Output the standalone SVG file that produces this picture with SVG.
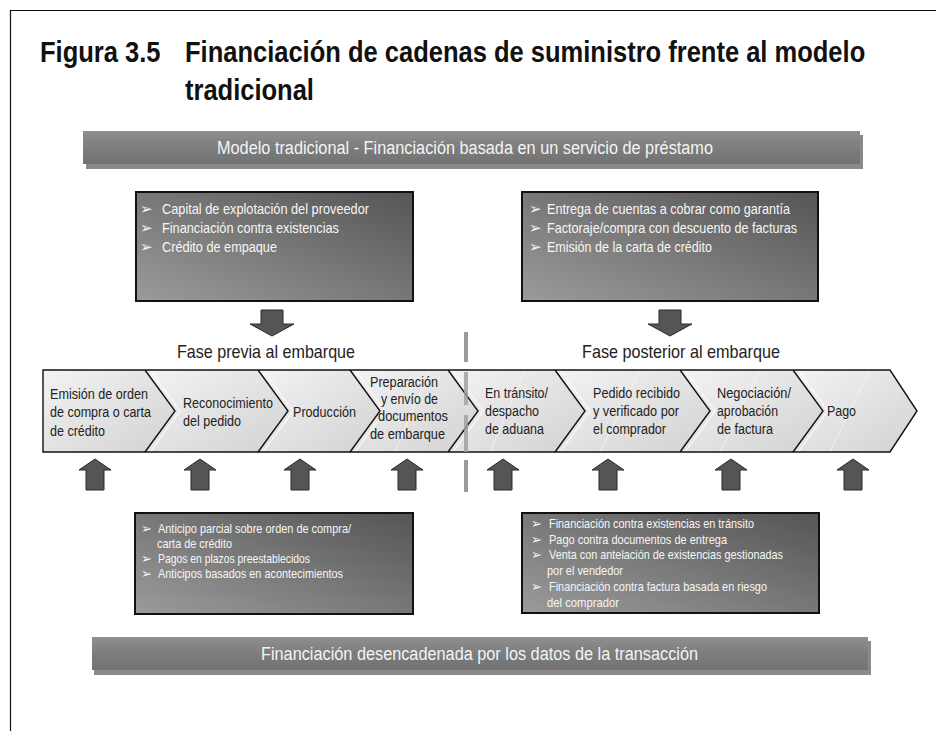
<svg xmlns="http://www.w3.org/2000/svg" width="936" height="731" viewBox="0 0 936 731">
<style>
text{font-family:'Liberation Sans',Arial,sans-serif}
.title{font-weight:bold;font-size:29px;fill:#111}
.ban{font-size:18px;fill:#f4f4f4}
.fase{font-size:19px;fill:#222}
.chev{font-size:15.5px;fill:#222}
.bx{font-size:14.5px;fill:#f6f6f6}
.bxs{font-size:13px;fill:#f6f6f6}
.bul{font-family:'DejaVu Sans',sans-serif;fill:#f6f6f6}
.box{stroke:#111;stroke-width:2}
.arr{fill:#555;stroke:#2a2a2a;stroke-width:1}
.sep{fill:#9c9c9c}
.edge{fill:none;stroke:#111;stroke-width:1.4;stroke-linejoin:miter}
.notch{fill:none;stroke:#fbfbfb;stroke-width:1.2}
.gloss{fill:none;stroke:#f6f6f6;stroke-width:1;opacity:0.8}
</style>
<defs>
<linearGradient id="gBox" x1="0" y1="1" x2="1" y2="0">
<stop offset="0" stop-color="#9b9b9b"/>
<stop offset="1" stop-color="#555"/>
</linearGradient>
<linearGradient id="gBan" x1="0" y1="0" x2="0" y2="1">
<stop offset="0" stop-color="#8f8f8f"/>
<stop offset="0.5" stop-color="#7d7d7d"/>
<stop offset="1" stop-color="#727272"/>
</linearGradient>
<linearGradient id="gChev" x1="0" y1="0" x2="1" y2="1">
<stop offset="0" stop-color="#f3f3f3"/>
<stop offset="1" stop-color="#d2d2d2"/>
</linearGradient>
</defs>

<rect x="0" y="0" width="936" height="731" fill="#fff"/>
<path d="M10.5,731 V10.5 H936" fill="none" stroke="#111" stroke-width="1.2"/>

<g id="title" transform="scale(0.88,1)">
<text class="title" x="45.5" y="62">Figura 3.5</text>
<text class="title" x="210.2" y="62">Financiación de cadenas de suministro frente al modelo</text>
<text class="title" x="210.2" y="100">tradicional</text>
</g>

<g id="banner-top">
<rect x="86" y="135" width="777" height="34" fill="#8a8a8a"/>
<rect x="83" y="131" width="777" height="33" fill="url(#gBan)"/>
<text class="ban" x="217" y="154" textLength="496" lengthAdjust="spacingAndGlyphs">Modelo tradicional - Financiación basada en un servicio de préstamo</text>
</g>

<g id="box-pre">
<rect class="box" x="136" y="192" width="277" height="109" fill="url(#gBox)"/>
<text class="bul" x="140" y="214" font-size="15">➢</text>
<text class="bx" x="162" y="214" textLength="207" lengthAdjust="spacingAndGlyphs">Capital de explotación del proveedor</text>
<text class="bul" x="140" y="233" font-size="15">➢</text>
<text class="bx" x="162" y="233" textLength="177" lengthAdjust="spacingAndGlyphs">Financiación contra existencias</text>
<text class="bul" x="140" y="252" font-size="15">➢</text>
<text class="bx" x="162" y="252" textLength="115" lengthAdjust="spacingAndGlyphs">Crédito de empaque</text>
</g>

<g id="box-post">
<rect class="box" x="522" y="192" width="296" height="109" fill="url(#gBox)"/>
<text class="bul" x="529" y="214" font-size="15">➢</text>
<text class="bx" x="547" y="214" textLength="243" lengthAdjust="spacingAndGlyphs">Entrega de cuentas a cobrar como garantía</text>
<text class="bul" x="529" y="233" font-size="15">➢</text>
<text class="bx" x="547" y="233" textLength="250" lengthAdjust="spacingAndGlyphs">Factoraje/compra con descuento de facturas</text>
<text class="bul" x="529" y="252" font-size="15">➢</text>
<text class="bx" x="547" y="252" textLength="165" lengthAdjust="spacingAndGlyphs">Emisión de la carta de crédito</text>
</g>

<g id="connectors">
<polygon class="arr" points="261,310 283,310 283,324 294,324 272,336 250,324 261,324"/>
<polygon class="arr" points="659,310 681,310 681,324 692,324 670,336 648,324 659,324"/>
<polygon class="arr" points="95,459 111,470 104,470 104,490 86,490 86,470 79,470"/>
<polygon class="arr" points="200,459 216,470 209,470 209,490 191,490 191,470 184,470"/>
<polygon class="arr" points="300,459 316,470 309,470 309,490 291,490 291,470 284,470"/>
<polygon class="arr" points="407,459 423,470 416,470 416,490 398,490 398,470 391,470"/>
<polygon class="arr" points="503,459 519,470 512,470 512,490 494,490 494,470 487,470"/>
<polygon class="arr" points="608,459 624,470 617,470 617,490 599,490 599,470 592,470"/>
<polygon class="arr" points="731,459 747,470 740,470 740,490 722,490 722,470 715,470"/>
<polygon class="arr" points="853,459 869,470 862,470 862,490 844,490 844,470 837,470"/>
</g>

<g id="phase-labels">
<text class="fase" x="177" y="358" textLength="178" lengthAdjust="spacingAndGlyphs">Fase previa al embarque</text>
<text class="fase" x="582" y="358" textLength="198" lengthAdjust="spacingAndGlyphs">Fase posterior al embarque</text>
</g>

<g id="chevrons">
<g id="c1"><polygon points="43,370 145,370 175,411 145,452 43,452" fill="url(#gChev)"/></g>
<g id="c2"><polygon points="145,370 258,370 288,411 258,452 145,452 175,411" fill="url(#gChev)"/></g>
<g id="c3"><polygon points="258,370 350,370 380,411 350,452 258,452 288,411" fill="url(#gChev)"/></g>
<g id="c4"><polygon points="350,370 448,370 478,411 448,452 350,452 380,411" fill="url(#gChev)"/></g>
<g id="c5"><polygon points="448,370 555,370 585,411 555,452 448,452 478,411" fill="url(#gChev)"/></g>
<g id="c6"><polygon points="555,370 680,370 710,411 680,452 555,452 585,411" fill="url(#gChev)"/></g>
<g id="c7"><polygon points="680,370 793,370 823,411 793,452 680,452 710,411" fill="url(#gChev)"/></g>
<g id="c8"><polygon points="793,370 890,370 917,411 890,452 793,452 823,411" fill="url(#gChev)"/></g>
<path class="notch" d="M150,370 L180,411 L150,452 M263,370 L293,411 L263,452 M355,370 L385,411 L355,452 M453,370 L483,411 L453,452 M560,370 L590,411 L560,452 M685,370 L715,411 L685,452 M798,370 L828,411 L798,452"/>
<path class="gloss" d="M395,452 L430,370 M490,452 L525,370 M600,452 L640,370 M720,452 L760,370 M830,452 L870,370"/>
<path class="edge" d="M145,370 L175,411 L145,452 M258,370 L288,411 L258,452 M350,370 L380,411 L350,452 M448,370 L478,411 L448,452 M555,370 L585,411 L555,452 M680,370 L710,411 L680,452 M793,370 L823,411 L793,452"/>
<path class="edge" d="M890,452 H43 V370 H890 L917,411 Z"/>
<text class="chev" x="50" y="399" textLength="98" lengthAdjust="spacingAndGlyphs">Emisión de orden</text>
<text class="chev" x="50" y="417" textLength="101" lengthAdjust="spacingAndGlyphs">de compra o carta</text>
<text class="chev" x="50" y="436" textLength="55" lengthAdjust="spacingAndGlyphs">de crédito</text>
<text class="chev" x="183" y="408" textLength="90" lengthAdjust="spacingAndGlyphs">Reconocimiento</text>
<text class="chev" x="183" y="426" textLength="58" lengthAdjust="spacingAndGlyphs">del pedido</text>
<text class="chev" x="293" y="417" textLength="63" lengthAdjust="spacingAndGlyphs">Producción</text>
<text class="chev" x="370" y="387" textLength="68" lengthAdjust="spacingAndGlyphs">Preparación</text>
<text class="chev" x="381" y="404" textLength="57" lengthAdjust="spacingAndGlyphs">y envío de</text>
<text class="chev" x="378" y="421" textLength="70" lengthAdjust="spacingAndGlyphs">documentos</text>
<text class="chev" x="370" y="439" textLength="75" lengthAdjust="spacingAndGlyphs">de embarque</text>
<text class="chev" x="485" y="398" textLength="63" lengthAdjust="spacingAndGlyphs">En tránsito/</text>
<text class="chev" x="485" y="416" textLength="54" lengthAdjust="spacingAndGlyphs">despacho</text>
<text class="chev" x="485" y="434" textLength="59" lengthAdjust="spacingAndGlyphs">de aduana</text>
<text class="chev" x="593" y="398" textLength="87" lengthAdjust="spacingAndGlyphs">Pedido recibido</text>
<text class="chev" x="593" y="416" textLength="86" lengthAdjust="spacingAndGlyphs">y verificado por</text>
<text class="chev" x="593" y="434" textLength="73" lengthAdjust="spacingAndGlyphs">el comprador</text>
<text class="chev" x="717" y="398" textLength="74" lengthAdjust="spacingAndGlyphs">Negociación/</text>
<text class="chev" x="717" y="416" textLength="61" lengthAdjust="spacingAndGlyphs">aprobación</text>
<text class="chev" x="717" y="434" textLength="56" lengthAdjust="spacingAndGlyphs">de factura</text>
<text class="chev" x="827" y="416" textLength="29" lengthAdjust="spacingAndGlyphs">Pago</text>
</g>

<g id="separator">
<rect class="sep" x="464" y="332" width="4" height="30"/>
<rect class="sep" x="464" y="372" width="4" height="33" opacity="0.8"/>
<rect class="sep" x="464" y="415" width="4" height="37" opacity="0.8"/>
<rect class="sep" x="464" y="460" width="4" height="32"/>
</g>

<g id="box-pre-ship">
<rect class="box" x="135" y="513" width="278" height="101" fill="url(#gBox)"/>
<text class="bul" x="141" y="533" font-size="13">➢</text>
<text class="bxs" x="158" y="533" textLength="193" lengthAdjust="spacingAndGlyphs">Anticipo parcial sobre orden de compra/</text>
<text class="bxs" x="157" y="548" textLength="75" lengthAdjust="spacingAndGlyphs">carta de crédito</text>
<text class="bul" x="141" y="563" font-size="13">➢</text>
<text class="bxs" x="158" y="563" textLength="152" lengthAdjust="spacingAndGlyphs">Pagos en plazos preestablecidos</text>
<text class="bul" x="141" y="578" font-size="13">➢</text>
<text class="bxs" x="158" y="578" textLength="185" lengthAdjust="spacingAndGlyphs">Anticipos basados en acontecimientos</text>
</g>

<g id="box-post-ship">
<rect class="box" x="522" y="513" width="297" height="100" fill="url(#gBox)"/>
<text class="bul" x="531" y="528" font-size="13">➢</text>
<text class="bxs" x="549" y="528" textLength="205" lengthAdjust="spacingAndGlyphs">Financiación contra existencias en tránsito</text>
<text class="bul" x="531" y="544" font-size="13">➢</text>
<text class="bxs" x="549" y="544" textLength="178" lengthAdjust="spacingAndGlyphs">Pago contra documentos de entrega</text>
<text class="bul" x="531" y="559" font-size="13">➢</text>
<text class="bxs" x="549" y="559" textLength="234" lengthAdjust="spacingAndGlyphs">Venta con antelación de existencias gestionadas</text>
<text class="bxs" x="547" y="575" textLength="76" lengthAdjust="spacingAndGlyphs">por el vendedor</text>
<text class="bul" x="531" y="591" font-size="13">➢</text>
<text class="bxs" x="549" y="591" textLength="218" lengthAdjust="spacingAndGlyphs">Financiación contra factura basada en riesgo</text>
<text class="bxs" x="547" y="607" textLength="72" lengthAdjust="spacingAndGlyphs">del comprador</text>
</g>

<g id="banner-bottom">
<rect x="94" y="641" width="777" height="34" fill="#8a8a8a"/>
<rect x="92" y="637" width="776" height="33" fill="url(#gBan)"/>
<text class="ban" x="261" y="660" textLength="437" lengthAdjust="spacingAndGlyphs">Financiación desencadenada por los datos de la transacción</text>
</g>
</svg>
